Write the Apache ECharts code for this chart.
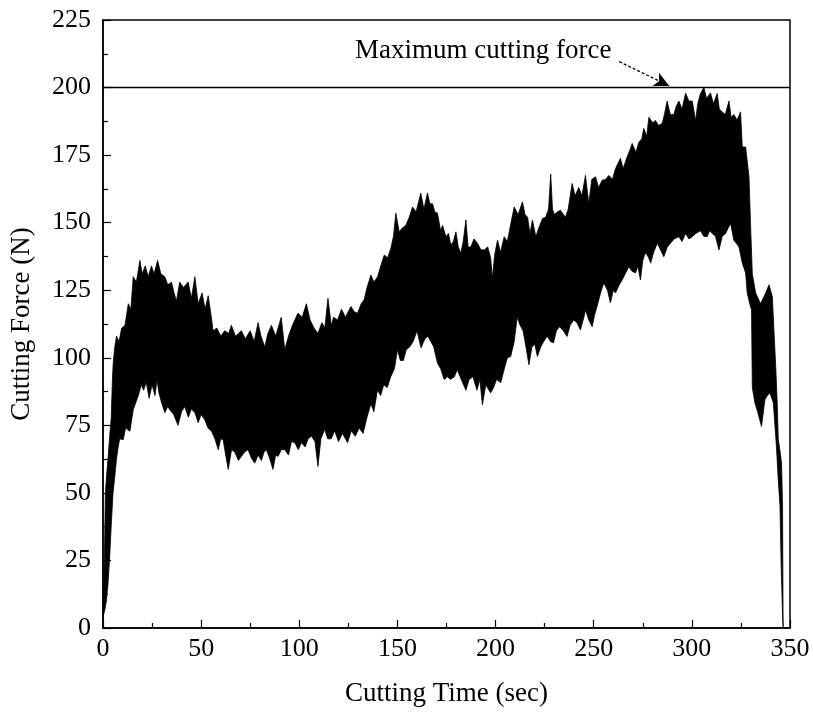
<!DOCTYPE html>
<html><head><meta charset="utf-8">
<script src="https://cdn.jsdelivr.net/npm/echarts@6/dist/echarts.min.js"></script>
<style>html,body{margin:0;padding:0;background:#fff}#c{width:813px;height:716px}</style>
</head><body><div id="c"></div>
<script>
// Axis definitions
const xMin = 0, xMax = 350, xStep = 50;
const yMin = 0, yMax = 225, yStep = 25;
const maxForce = 200;
const annotationText = 'Maximum cutting force';

// Upper envelope of the cutting-force signal: [time (s), force (N)]
const upperEnvelope = [
[0,8],[0.5,20],[0.8,30],[1.2,50],[2.0,58],[2.5,62],[3.3,70],[4.2,78],[4.8,92],[5.2,98],[6.0,104],[6.9,108],
[8.2,106],[9.5,111],[11.2,112],[12.9,120],[14.2,118],[15.4,130],[17.0,128],[18.8,136],[20.0,131],[21.5,134],
[23.0,130],[24.7,134],[26.0,131],[27.8,136],[29.5,131],[31.5,130],[33.0,127],[34.9,128],[36.2,124],[37.4,121],
[39.1,128],[41.0,126],[43.4,128],[45.0,122],[46.8,130],[48.5,120],[50.5,124],[52.0,118],[53.6,123],[55.0,116],
[56.1,110],[58.0,111],[60.0,108],[62.0,110],[64.0,109],[65.4,112],[67.5,108],[70.5,110],[72.5,107],[75.0,110],
[77.0,106],[79.0,113],[80.5,108],[82.4,104],[84.0,109],[85.8,112],[88.0,108],[90.8,115],[92.6,103],[94.5,108],
[96.5,112],[99.3,116.5],[101.5,115],[103.6,120],[105.5,114],[107.5,111],[109.5,109],[111.5,113],[113.0,111],
[114.6,122],[116.3,112],[117.5,115],[119.5,114],[121.5,118],[123.5,115],[126.3,119],[128.0,117],[129.7,116.5],
[131.5,120],[133.0,121.4],[134.5,126],[136.5,130.6],[138.0,128],[139.9,130],[141.5,134],[143.3,138],[145.0,137],
[146.7,140.6],[148.0,145],[149.2,153.5],[150.9,146.6],[152.5,148],[154.3,149],[156.0,152],[157.7,155.8],
[159.5,154],[161.9,160.9],[163.5,155],[165.3,161],[166.5,157],[167.9,157],[169.0,154],[170.4,153.5],[172.0,147],
[173.0,149],[174.7,144.8],[176.0,146],[177.2,141.7],[178.5,143],[179.8,146.6],[181.0,141],[182.3,138.7],
[183.5,143],[184.9,151],[186.0,141],[187.4,141],[189.0,144],[190.8,142.4],[192.5,140],[194.2,139.9],[196.0,141],
[197.5,137],[198.4,129.4],[199.5,138],[201.0,143.5],[202.5,139],[204.4,144.8],[206.0,143],[207.8,149.8],
[209.5,155.8],[211.5,153],[213.7,157.7],[215.0,153],[216.3,152],[217.5,146],[218.8,151],[220.5,144.8],[222.0,148],
[223.9,151.5],[225.5,152],[227.0,155],[228.1,168],[229.0,155],[230.0,153],[231.5,154],[233.0,154.6],[235.6,152],
[237.0,155],[239.0,164.5],[240.5,160],[242.4,163],[244.0,160],[245.8,167.5],[247.5,157],[249.0,166],[250.9,167],
[252.5,163],[254.3,165.7],[256.0,166],[257.7,167.5],[259.5,166],[261.1,170],[263.6,173.8],[265.0,170],[267.0,174.3],
[268.5,177],[269.6,179.3],[271.5,176],[273.0,179.8],[274.5,181],[275.5,184.9],[277.0,182],[278.1,189],[280.0,187],
[281.5,187.8],[283.0,186],[284.9,186.7],[286.0,190],[287.4,195],[289.0,190],[290.8,190],[292.0,193],[293.4,195],
[295.0,192],[296.8,198],[298.5,195],[300.2,195],[301.9,187.8],[303.0,194],[304.4,197.8],[306.1,200],[307.5,196],
[309.5,198],[311.0,194],[312.9,197.8],[314.0,192],[315.5,191],[317.0,190],[318.9,195],[320.0,189],[321.4,190],
[323.0,188],[324.8,191],[325.7,178],[327.4,178],[329.1,167],[330.0,147],[330.8,131],[332.5,124],[335.0,120],
[337.6,124],[339.3,127],[341.0,122.6],[341.9,109],[342.8,95.6],[343.5,83],[344.0,70],[345.0,65],[345.7,61],
[346.2,45],[346.5,0]
];

// Lower envelope of the cutting-force signal: [time (s), force (N)]
const lowerEnvelope = [
[0,4],[1.0,7],[1.7,10],[2.5,16],[3.3,25],[4.2,38],[5.1,50],[6.0,56],[6.8,62],[7.5,66],[8.5,70],[10.3,69.7],
[11.5,74],[13.7,72.8],[15.4,80.8],[17.0,84],[18.0,86],[19.5,90],[20.7,88],[22.0,91],[23.5,85],[25.0,90],[26.5,86],
[27.5,92],[28.5,87],[30.0,83],[31.5,79.7],[33.0,82],[34.0,80.8],[36.0,79],[38.2,75],[40.0,80],[41.6,82],[43.5,78],
[45.0,81],[46.8,79.7],[48.5,76],[50.0,79],[51.9,77],[53.5,74],[55.3,72.8],[57.0,70],[58.7,66],[60.0,70],[61.2,69.7],
[62.5,64],[63.8,58.7],[65.5,66],[67.2,65],[69.0,62],[70.5,63.5],[72.0,65],[73.9,66],[75.5,63],[77.3,61],[79.0,64],
[80.7,62],[82.0,65],[83.2,66],[84.8,63],[86.6,58.7],[88.0,64],[89.2,63.5],[90.8,66],[92.6,66],[94.5,64],[96.0,69],
[97.7,68.6],[99.5,66],[101.1,68.6],[103.0,67],[104.5,70],[106.2,71],[108.0,69],[109.5,59.8],[111.0,70],[112.9,73.5],
[114.5,70],[116.3,70],[118.0,73],[120.0,69],[122.0,72],[124.6,68.6],[126.5,73],[128.5,71],[130.5,74],[132.5,72],
[134.5,78],[136.5,83],[138.0,80],[139.8,88],[141.5,86],[143.0,90],[144.8,89],[146.6,93],[148.5,96],[150.0,103],
[151.5,99],[153.0,99],[154.5,103],[156.2,104],[158.0,106],[160.0,110],[162.0,103.7],[164.0,107],[165.5,108],
[167.0,106],[168.5,104],[170.4,98],[172.0,96],[173.8,92],[175.5,93],[177.0,92],[179.0,93],[180.5,95.6],[182.5,92],
[184.9,88],[186.5,92],[188.5,93],[190.5,88],[192.0,92],[193.3,82.6],[195.0,90],[197.5,87],[199.0,89],[200.5,92],
[202.6,90.8],[204.5,96],[206.0,100],[207.7,100.5],[209.5,106],[211.0,115],[212.5,112],[214.0,110],[215.5,104],
[217.0,97.4],[218.5,104],[220.0,105],[221.3,100.5],[223.0,104],[224.5,106],[226.3,108],[228.0,106],[229.5,105.5],
[231.0,110],[232.6,111.5],[234.5,110],[236.4,107.9],[238.0,112],[239.8,114],[241.5,113],[243.2,110.3],[245.0,115],
[245.8,117.7],[247.5,114],[249.2,111.5],[250.5,116],[251.7,119],[253.5,124],[255.1,127.7],[257.0,125],[258.5,120.3],
[260.0,125],[261.1,124],[263.0,127],[264.5,128.8],[266.0,131],[267.9,133.7],[269.5,132],[271.3,131.4],[272.5,134],
[273.8,128.8],[275.0,136],[276.4,139],[278.0,137],[279.0,135],[280.5,139],[282.4,142.4],[284.0,140],[285.7,137.4],
[287.5,141],[289.1,142.4],[291.0,144],[293.4,144.8],[295.0,143],[296.8,146],[298.5,144],[300.2,144.8],[302.0,146],
[304.4,147],[306.0,145],[307.8,144.8],[309.0,147],[310.4,146],[312.0,145],[313.8,139.9],[315.5,145],[317.2,146],
[318.5,148],[319.7,149.8],[321.4,143.5],[323.0,142],[324.0,141],[325.7,135],[327.4,131.4],[328.2,124],[329.5,120],
[330.4,117.7],[330.8,89],[332.1,83.4],[333.5,80],[335.5,74.6],[337.2,84.5],[338.5,86],[339.8,87],[341.5,83.4],
[343.1,67],[344.0,55],[344.9,45],[345.5,23],[346.2,5],[346.5,0]
];

const FONT = '"Liberation Serif","Times New Roman",serif';
const chart = echarts.init(document.getElementById('c'), null, {renderer:'canvas'});

const option = {
  animation:false,
  backgroundColor:'#fff',
  grid:{left:102, right:23, top:20, bottom:88, show:true, borderColor:'#000', borderWidth:1.5, backgroundColor:'transparent'},
  xAxis:{
    type:'value', min:xMin, max:xMax, interval:xStep,
    name:'Cutting Time (sec)', nameLocation:'middle', nameGap:52,
    nameTextStyle:{fontFamily:FONT, fontSize:27, color:'#000'},
    axisLine:{show:true, onZero:false, lineStyle:{color:'#000', width:1.5}},
    axisTick:{show:true, inside:true, length:8, lineStyle:{color:'#000', width:1.2}},
    minorTick:{show:true, splitNumber:2, length:5, lineStyle:{color:'#000', width:1.2}},
    axisLabel:{fontFamily:FONT, fontSize:26, color:'#000', margin:8},
    splitLine:{show:false}
  },
  yAxis:{
    type:'value', min:yMin, max:yMax, interval:yStep,
    name:'Cutting Force (N)', nameLocation:'middle', nameGap:68,
    nameTextStyle:{fontFamily:FONT, fontSize:27, color:'#000'},
    axisLine:{show:true, onZero:false, lineStyle:{color:'#000', width:1.5}},
    axisTick:{show:true, inside:true, length:8, lineStyle:{color:'#000', width:1.2}},
    minorTick:{show:true, splitNumber:2, length:5, lineStyle:{color:'#000', width:1.2}},
    axisLabel:{fontFamily:FONT, fontSize:26, color:'#000', margin:12, padding:[0,0,6,0]},
    splitLine:{show:false}
  },
  series:[
    {
      type:'custom', coordinateSystem:'cartesian2d', silent:true, clip:true,
      data:[[0,0]],
      renderItem:function(params, api){
        const pts = upperEnvelope.map(p => api.coord(p));
        const low = lowerEnvelope.slice().reverse().map(p => api.coord(p));
        return {type:'polygon', shape:{points:pts.concat(low)}, style:{fill:'#000', stroke:'#000', lineWidth:0.8}};
      }
    },
    {
      type:'line', silent:true, showSymbol:false, symbol:'none',
      data:[[xMin,maxForce],[xMax,maxForce]],
      lineStyle:{color:'#000', width:1.5},
      markLine:{
        silent:true, animation:false,
        symbol:['none','arrow'], symbolSize:[11,15],
        lineStyle:{color:'#000', width:1.3, type:[3,2]},
        label:{show:false},
        data:[[{coord:[263,209.6]},{coord:[288.5,200.6]}]]
      }
    }
  ],
  graphic:[{
    type:'text', left:355, top:37, silent:true,
    style:{text:annotationText, font:'27px ' + FONT, fill:'#000'}
  }]
};
chart.setOption(option);
</script></body></html>
